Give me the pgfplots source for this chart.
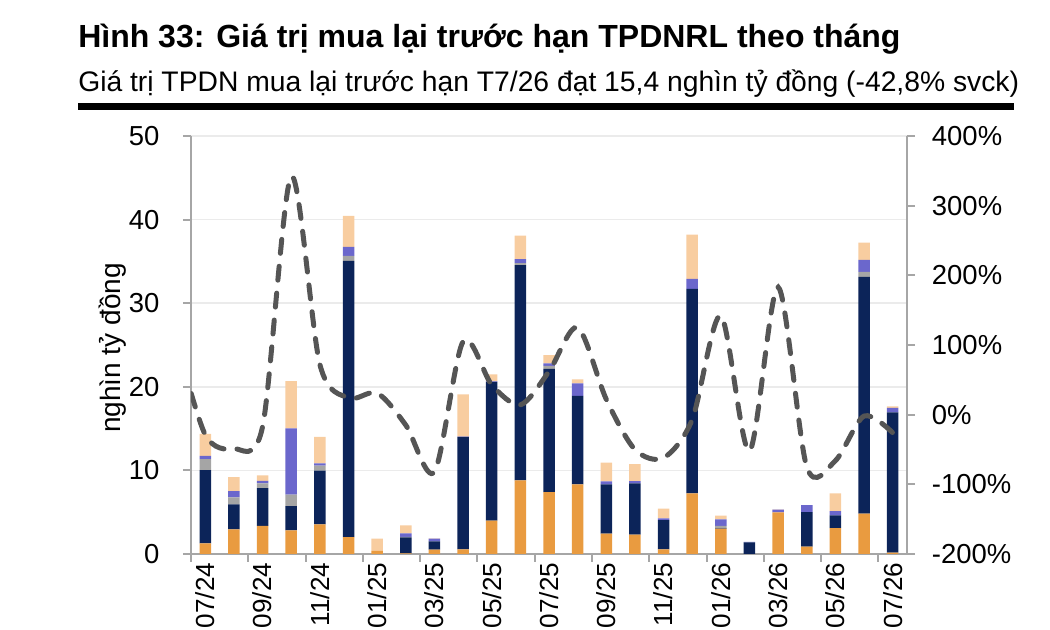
\documentclass[border=0pt]{standalone}
\usepackage{fontspec}
\setmainfont{Liberation Sans}
\usepackage{pgfplots}
\pgfplotsset{compat=1.18}
\usepackage{pgfplotstable}

\definecolor{cOr}{HTML}{E99B40}
\definecolor{cNv}{HTML}{0C2459}
\definecolor{cGy}{HTML}{A5A5A5}
\definecolor{cPu}{HTML}{6B67CC}
\definecolor{cPe}{HTML}{F8CDA0}
\definecolor{cLn}{HTML}{555555}
\definecolor{cAx}{HTML}{A6A6A6}
\definecolor{cGr}{HTML}{EBEBEB}

\pgfplotstableread{
x o n g p e
1 1.27 8.77 1.31 0.40 2.63
2 2.95 2.99 0.83 0.76 1.67
3 3.35 4.54 0.56 0.31 0.64
4 2.83 2.91 1.35 7.93 5.66
5 3.55 6.41 0.60 0.28 3.18
6 2.03 33.03 0.60 1.07 3.71
7 0.36 0 0 0 1.47
8 0.08 1.92 0.05 0.42 0.96
9 0.52 0.99 0 0.32 0.03
10 0.56 13.46 0 0.02 5.04
11 3.98 16.62 0 0.05 0.85
12 8.80 25.74 0.26 0.46 2.83
13 7.41 14.74 0.35 0.30 1.00
14 8.33 10.59 0 1.48 0.50
15 2.43 5.90 0 0.36 2.23
16 2.31 6.14 0 0.28 2.03
17 0.56 3.50 0 0.20 1.16
18 7.25 24.46 0 1.19 5.30
19 3.03 0.05 0.27 0.79 0.44
20 0 1.39 0 0.05 0
21 4.98 0 0 0.32 0.05
22 0.88 4.14 0 0.84 0
23 3.10 1.52 0 0.52 2.11
24 4.82 28.33 0.60 1.43 2.07
25 0.16 16.77 0 0.56 0.16
}\bars

\pgfplotstableread{
x y
0 105
1 -29
2 -49
3 -17
4 342
5 72
6 24
7 31
8 -15
9 -82
10 105
11 43
12 14
13 62
14 125
15 22
16 -50
17 -62
18 -7
19 142
20 -52
21 183
22 -75
23 -66
24 -2
25 -26
}\yoy

\pgfplotsset{
  every tick label/.append style={font=\fontsize{20.6pt}{24pt}\selectfont},
  /pgf/number format/assume math mode=true,
}

\begin{document}
\begin{tikzpicture}
\begin{axis}[
  at={(0,0)}, anchor=south west,
  scale only axis, width=537pt, height=313.5pt,
  xmin=0.5, xmax=25.5, ymin=0, ymax=50,
  ybar stacked, bar width=8.625pt,
  axis x line*=bottom, axis y line*=left,
  axis line style={cAx, line width=1.5pt, -},
  ytick={0,10,...,50},
  ymajorgrids, grid style={cGr, line width=1.1pt},
  xtick={0.5,2.5,...,24.5}, xticklabels={},
  extra x ticks={1,3,...,25},
  extra x tick labels={07/24,09/24,11/24,01/25,03/25,05/25,07/25,09/25,11/25,01/26,03/26,05/26,07/26},
  extra x tick style={tick style={draw=none}},
  xticklabel style={rotate=90, anchor=east, inner sep=0pt, xshift=-0.5pt, font=\fontsize{19.6pt}{23pt}\selectfont},
  yticklabel style={anchor=east, inner sep=0pt, xshift=-17.5pt},
  tick align=outside, major tick length=6pt,
  tick style={cAx, line width=1.5pt},
  clip=false,
]
\addplot[fill=cOr, draw=none] table[x=x, y=o] {\bars};
\addplot[fill=cNv, draw=none] table[x=x, y=n] {\bars};
\addplot[fill=cGy, draw=none] table[x=x, y=g] {\bars};
\addplot[fill=cPu, draw=none] table[x=x, y=p] {\bars};
\addplot[fill=cPe, draw=none] table[x=x, y=e] {\bars};
\end{axis}
\begin{axis}[
  at={(0,0)}, anchor=south west,
  scale only axis, width=537pt, height=313.5pt,
  xmin=0.5, xmax=25.5, ymin=-200, ymax=400,
  axis y line*=right, axis x line=none,
  axis line style={cAx, line width=1.5pt, -},
  ytick={-200,-100,...,400},
  yticklabels={-200\%,-100\%,0\%,100\%,200\%,300\%,400\%},
  yticklabel style={anchor=west, inner sep=0pt, xshift=12.5pt},
  tick align=outside, major tick length=6pt,
  tick style={cAx, line width=1.5pt},
]
\addplot[cLn, line width=3.75pt, smooth, line cap=round, dash pattern=on 10.5pt off 9.75pt] table[x=x, y=y] {\yoy};
\end{axis}
\node[anchor=base west, inner sep=0pt, font=\fontsize{24pt}{29pt}\selectfont\bfseries] at (-84.75pt,379.5pt) {Hình 33: Giá trị mua lại trước hạn TPDNRL theo tháng};
\node[anchor=base west, inner sep=0pt, font=\fontsize{21.2pt}{25pt}\selectfont] at (-84.75pt,346.5pt) {Giá trị TPDN mua lại trước hạn T7/26 đạt 15,4 nghìn tỷ đồng (-42,8\% svck)};
\fill[black] (-84.75pt,333pt) rectangle (617.25pt,338pt);
\node[rotate=90, inner sep=0pt, font=\fontsize{21pt}{25pt}\selectfont] at (-58.5pt,154.5pt) {nghìn tỷ đồng};
\pgfresetboundingbox
\useasboundingbox (-143.25pt,-57pt) rectangle (644.25pt,415.5pt);
\end{tikzpicture}
\end{document}
